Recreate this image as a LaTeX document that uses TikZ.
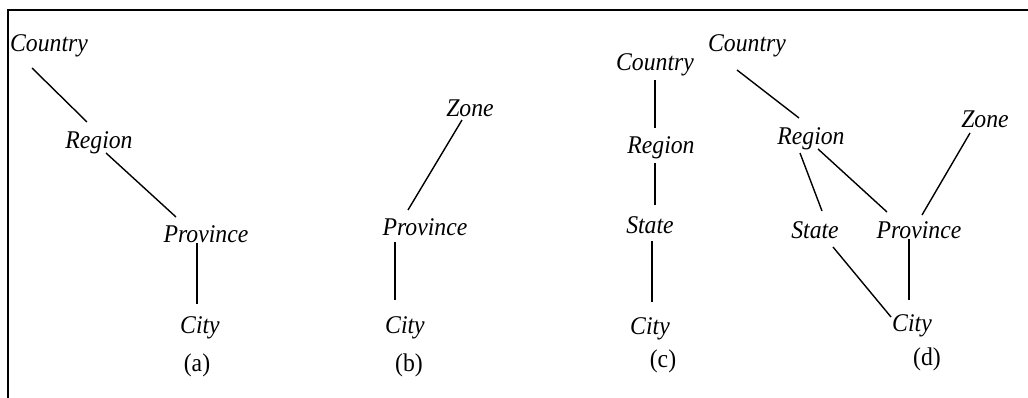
\documentclass[tikz,border=0pt]{standalone}
\usepackage{fontspec}
\setmainfont{Liberation Serif}[FakeStretch=0.93]
\usetikzlibrary{calc}
\begin{document}
\begin{tikzpicture}[x=1pt,y=-1pt,
  lbl/.style={font=\fontsize{25.5}{28}\selectfont\itshape, inner sep=0pt},
  caption/.style={font=\fontsize{25.5}{28}\selectfont, inner sep=0pt},
  edge/.style={line width=1.4pt}]
\useasboundingbox (0,0) rectangle (1028,398);
\draw[line width=1.6pt] (8,402) -- (8,10) -- (1032,10);
% (a)
\node[lbl] (aC) at (49,46) {Country};
\node[lbl] (aR) at (99,143) {Region};
\node[lbl] (aP) at (206,234) {Province};
\node[lbl] (aY) at (200,328) {City};
\node[caption] (aL) at (197,365) {(a)};
\draw[edge] ($(aC)+(-17,22)$) -- ($(aR)+(-12,-21)$);
\draw[edge] ($(aR)+(7,10)$) -- ($(aP)+(-30,-17)$);
\draw[edge] ($(aP)+(-9,9)$) -- ($(aY)+(-3,-24)$);
% (b)
\node[lbl] (bZ) at (470,108) {Zone};
\node[lbl] (bP) at (425,227) {Province};
\node[lbl] (bY) at (405,328) {City};
\node[caption] (bL) at (409,365) {(b)};
\draw[edge] ($(bZ)+(-8,12)$) -- ($(bP)+(-17,-17)$);
\draw[edge] ($(bP)+(-30,15)$) -- ($(bY)+(-10,-28)$);
% (c)
\node[lbl] (cC) at (655,65) {Country};
\node[lbl] (cR) at (661,148) {Region};
\node[lbl] (cS) at (650,225) {State};
\node[lbl] (cY) at (650,329) {City};
\node[caption] (cL) at (663,361) {(c)};
\draw[edge] ($(cC)+(0,15)$) -- ($(cR)+(-6,-20)$);
\draw[edge] ($(cR)+(-6,15)$) -- ($(cS)+(5,-20)$);
\draw[edge] ($(cS)+(2,16)$) -- ($(cY)+(2,-27)$);
% (d)
\node[lbl] (dC) at (747,46) {Country};
\node[lbl] (dR) at (811,139) {Region};
\node[lbl] (dZ) at (985,119) {Zone};
\node[lbl] (dS) at (815,230) {State};
\node[lbl] (dP) at (919,230) {Province};
\node[lbl] (dY) at (912,326) {City};
\node[caption] (dL) at (927,359) {(d)};
\draw[edge] ($(dC)+(-10,24)$) -- ($(dR)+(-12,-21)$);
\draw[edge] ($(dR)+(-11,14)$) -- ($(dS)+(7,-19)$);
\draw[edge] ($(dR)+(7,10)$) -- ($(dP)+(-32,-18)$);
\draw[edge] ($(dZ)+(-15,14)$) -- ($(dP)+(3,-15)$);
\draw[edge] ($(dP)+(-10,9)$) -- ($(dY)+(-3,-26)$);
\draw[edge] ($(dS)+(18,17)$) -- ($(dY)+(-21,-9)$);
\end{tikzpicture}
\end{document}
